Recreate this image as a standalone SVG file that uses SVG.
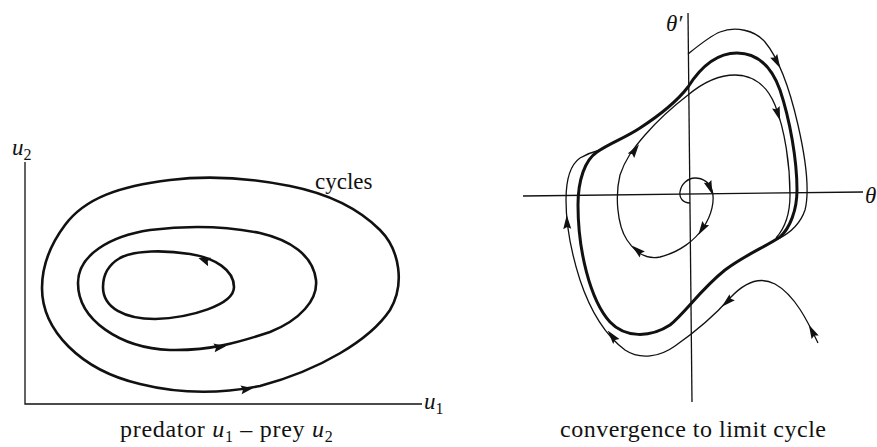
<svg xmlns="http://www.w3.org/2000/svg" width="877" height="447" viewBox="0 0 877 447">
<style>
.bg{fill:#fff}
.ax{fill:none;stroke:#111;stroke-width:1.3}
.lc{fill:none;stroke:#111;stroke-width:2.6;stroke-linejoin:round}
.th{fill:none;stroke:#111;stroke-width:1.3}
.tk{fill:none;stroke:#111;stroke-width:3}
.ah{fill:#111}
text{font-family:"Liberation Serif","Times New Roman",serif;font-size:23px;fill:#111}
.cap{font-size:24px}
.it{font-style:italic}
</style>
<defs>
<path id="arL" class="ah" d="M6,0 L-6,-4.5 L-4,0 L-6,4.5 Z"/>
<path id="arR" class="ah" d="M7,0 L-7,-4 L-5,0 L-7,4 Z"/>
</defs>
<rect class="bg" width="877" height="447"/>

<g id="left-diagram">
  <g id="left-axes">
    <path class="ax" d="M25,162 L25,404 L422,404"/>
    <text class="it" x="12" y="155">u<tspan font-size="16" dy="5" font-style="normal">2</tspan></text>
    <text class="it" x="424" y="409">u<tspan font-size="16" dy="5" font-style="normal">1</tspan></text>
  </g>
  <g id="cycle-outer">
    <path class="lc" d="M42,288 C42,330 80,370 140,384 C180,394 220,394 260,386 C320,370 370,340 390,310 C405,285 400,250 380,230 C355,205 320,192 290,186 C250,178 210,175 170,180 C120,186 85,198 65,225 C50,245 42,265 42,288 Z"/>
    <use href="#arL" transform="translate(247,389) rotate(-8)"/>
  </g>
  <g id="cycle-middle">
    <path class="lc" d="M78,283 C78,320 120,348 170,350 C210,351 240,342 270,332 C300,320 318,300 316,280 C313,255 290,240 260,233 C230,227 190,225 150,230 C110,236 78,255 78,283 Z"/>
    <use href="#arL" transform="translate(220,347) rotate(-8)"/>
  </g>
  <g id="cycle-inner">
    <path class="lc" d="M103,287 C103,308 125,319 155,319 C190,318 234,305 234,287 C234,270 215,258 190,254 C165,250 135,250 120,258 C108,265 103,275 103,287 Z"/>
    <use href="#arL" transform="translate(204,260) rotate(200)"/>
  </g>
  <text id="label-cycles" x="315" y="189">cycles</text>
  <text id="caption-left" class="cap" x="120" y="437" letter-spacing="0.7">predator <tspan class="it">u</tspan><tspan font-size="16" dy="5">1</tspan><tspan dy="-5"> – prey </tspan><tspan class="it">u</tspan><tspan font-size="16" dy="5">2</tspan></text>
</g>

<g id="right-diagram">
  <g id="right-axes">
    <path class="ax" d="M523,196 L863,192"/>
    <path class="ax" d="M688,13 L692,402"/>
    <text class="it" x="865" y="203">θ</text>
    <text class="it" x="666" y="31">θ′</text>
  </g>
  <g id="limit-cycle">
    <path class="tk" d="M688,87 C678,100 660,115 640,128 C625,138 610,143 597,152 C585,160 578,180 578,205 C578,250 590,300 610,322 C625,338 650,338 670,325 C685,313 700,290 725,270 C745,255 765,247 780,237 C790,228 797,210 797,190 C797,160 790,120 780,90 C772,68 758,53 737,53 C715,53 700,68 688,87 Z"/>
  </g>
  <g id="connectors">
    <g id="traj-outer-top">
      <path class="th" d="M688,54 C698,46 710,36 720,32 C735,26 755,30 765,42 C780,60 790,90 798,125 C806,160 810,190 805,210 C800,225 790,233 778,239"/>
      <use href="#arR" transform="translate(777,62) rotate(62)"/>
    </g>
    <g id="traj-spiral">
      <path class="th" d="M690,203 C683,203 679,198 680,192 C681,184 688,178 695,178 C703,178 710,183 712,190 C715,200 712,215 703,228 C695,240 680,252 660,257 C645,260 635,252 627,240 C617,225 615,195 620,175 C625,160 632,150 645,135 C658,120 675,105 688,95 C700,85 715,75 735,75 C755,75 768,88 775,105 C785,130 790,165 790,195 C790,215 785,228 776,238"/>
      <use href="#arR" transform="translate(710,188) rotate(70)"/>
      <use href="#arR" transform="translate(702,229) rotate(122)"/>
      <use href="#arR" transform="translate(637,250) rotate(220)"/>
      <use href="#arR" transform="translate(635,150) rotate(-55)"/>
      <use href="#arR" transform="translate(778,114) rotate(72)"/>
    </g>
    <g id="traj-lower">
      <path class="th" d="M818,343 C808,322 795,295 775,284 C760,276 745,282 730,298 C715,315 695,332 675,346 C660,357 640,360 625,350 C605,335 590,310 580,280 C572,255 566,225 566,200 C566,180 570,165 580,158 C587,154 592,152 600,150"/>
      <use href="#arR" transform="translate(812,331) rotate(243)"/>
      <use href="#arR" transform="translate(727,302) rotate(138)"/>
      <use href="#arR" transform="translate(612,336) rotate(232)"/>
      <use href="#arR" transform="translate(567,222) rotate(-92)"/>
    </g>
  </g>
  <text id="caption-right" class="cap" x="560" y="437" letter-spacing="0.5">convergence to limit cycle</text>
</g>
</svg>
